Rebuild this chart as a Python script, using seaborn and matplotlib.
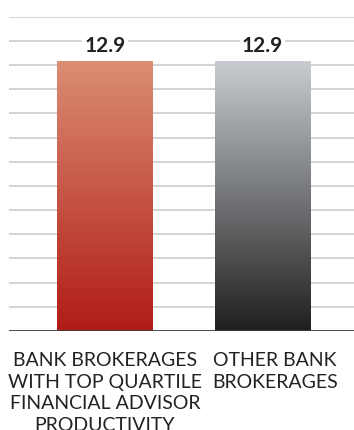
import numpy as np
import pandas as pd
import matplotlib
matplotlib.use("Agg")
import matplotlib.pyplot as plt
import seaborn as sns
from matplotlib.colors import LinearSegmentedColormap
from matplotlib.transforms import blended_transform_factory

# Data
categories = ["BANK BROKERAGES\nWITH TOP QUARTILE\nFINANCIAL ADVISOR\nPRODUCTIVITY",
              "OTHER BANK\nBROKERAGES"]
values = [12.9, 12.9]
value_labels = ["12.9", "12.9"]

# Gradient colours (top, bottom) for each bar
gradients = [("#DB8E74", "#B01C17"), ("#C9CDD1", "#1F1F20")]

sns.set_theme(style="white")
plt.rcParams["font.family"] = ["Lato", "DejaVu Sans"]

df = pd.DataFrame({"group": categories, "value": values})

fig = plt.figure(figsize=(3.54, 4.30), dpi=100)
ax = fig.add_axes([9 / 354, 99 / 430, 345 / 354, 314.3 / 430])

sns.barplot(data=df, x="group", y="value", ax=ax, width=0.606,
            color="#cccccc", linewidth=0, zorder=2)

ax.set_xlim(-0.608, 1.579)
ax.set_ylim(0, 15)

# light horizontal rules
for yv in np.linspace(0, 15, 14)[1:]:
    ax.axhline(yv, color="#c9c9c9", lw=1.1, zorder=0)
ax.axhline(0, color="#3c3c3c", lw=1.3, zorder=4)

# vertical gradient fill for each bar
grad = np.linspace(0, 1, 256).reshape(-1, 1)
for patch, (top, bottom) in zip(ax.patches, gradients):
    x0, y0 = patch.get_x(), patch.get_y()
    w, h = patch.get_width(), patch.get_height()
    cmap = LinearSegmentedColormap.from_list("g", [bottom, top])
    im = ax.imshow(grad, cmap=cmap, aspect="auto", origin="lower",
                   extent=[x0, x0 + w, y0, y0 + h], zorder=3,
                   interpolation="bicubic")
    im.set_clip_path(patch)
    patch.set_facecolor("none")

ax.set_xlim(-0.608, 1.579)
ax.set_ylim(0, 15)

# value labels above the bars
for i, (v, lab) in enumerate(zip(values, value_labels)):
    ax.text(i, 13.32, lab, ha="center", va="baseline", fontsize=15,
            fontweight="bold", color="#222222", zorder=5,
            bbox=dict(facecolor="white", edgecolor="none", pad=1.5))

# category labels under the axis
label_x = [0.0, 1.078]
trans = blended_transform_factory(ax.transData, ax.transAxes)
for x, lab in zip(label_x, categories):
    ax.text(x, -0.066, lab, transform=trans, ha="center", va="top",
            multialignment="center", fontsize=14, color="#222222",
            linespacing=1.34, clip_on=False)

ax.set_xticks([])
ax.set_yticks([])
ax.set_xlabel("")
ax.set_ylabel("")
for s in ax.spines.values():
    s.set_visible(False)

fig.savefig("out.png", dpi=100)
